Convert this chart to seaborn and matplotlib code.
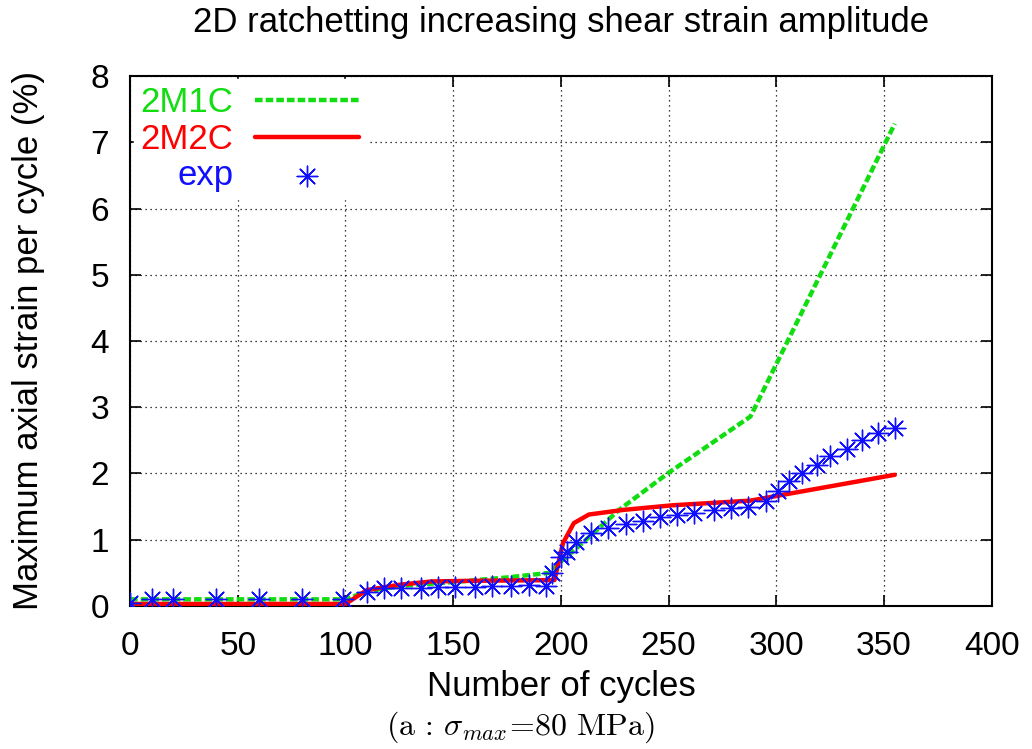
import numpy as np
import pandas as pd
import matplotlib
matplotlib.use("Agg")
import matplotlib.pyplot as plt
import seaborn as sns

# ================================
# Data
# ================================

# 2M1C model (dashed green)
m1c_cycles = [0, 100, 110, 125, 150, 175, 195, 200, 210, 227, 250, 288, 355]
m1c_strain = [0.10, 0.10, 0.22, 0.30, 0.36, 0.43, 0.50, 0.67, 0.95, 1.45, 2.01, 2.86, 7.28]

# 2M2C model (solid red)
m2c_cycles = [0, 100, 110, 125, 140, 160, 197, 201, 206, 213, 229, 252, 288, 355]
m2c_strain = [0.03, 0.03, 0.24, 0.32, 0.37, 0.38, 0.39, 0.95, 1.25, 1.38, 1.45, 1.52, 1.59, 1.98]

# experiment (blue asterisks)
exp_cycles = [0, 10, 20, 40, 60, 80, 99, 110, 118, 126, 135, 143, 151, 160, 168,
              177, 185, 193, 196, 200, 203, 207, 214, 222, 230, 238, 246, 254,
              262, 271, 279, 287, 295, 301, 306, 312, 319, 325, 333, 340, 347, 355]
exp_strain = [0.05, 0.10, 0.10, 0.10, 0.10, 0.10, 0.10, 0.21, 0.27, 0.27, 0.27, 0.29, 0.29, 0.29, 0.30,
              0.30, 0.32, 0.30, 0.50, 0.74, 0.82, 0.96, 1.10, 1.17, 1.24, 1.28, 1.35, 1.38,
              1.41, 1.45, 1.48, 1.50, 1.58, 1.73, 1.88, 2.01, 2.13, 2.27, 2.37, 2.50, 2.61, 2.69]

x_ticks = [0, 50, 100, 150, 200, 250, 300, 350, 400]
y_ticks = [0, 1, 2, 3, 4, 5, 6, 7, 8]

df_m1c = pd.DataFrame({"cycles": m1c_cycles, "strain": m1c_strain})
df_m2c = pd.DataFrame({"cycles": m2c_cycles, "strain": m2c_strain})
df_exp = pd.DataFrame({"cycles": exp_cycles, "strain": exp_strain})

# ================================
# Style
# ================================
sns.set_style("ticks")
plt.rcParams["font.family"] = ["Liberation Sans", "DejaVu Sans"]
plt.rcParams["mathtext.fontset"] = "cm"
plt.rcParams["text.color"] = "black"
plt.rcParams["axes.labelcolor"] = "black"

green = "#11dd11"
red = "#ff0000"
blue = "#1010ff"

fig = plt.figure(figsize=(10.32, 7.49), dpi=100)
ax = fig.add_axes([0.126, 0.191, 0.835, 0.7075])

sns.lineplot(data=df_m1c, x="cycles", y="strain", ax=ax, color=green, lw=3.2,
             label="2M1C", zorder=3)
ax.lines[-1].set_dashes([1.7, 0.7])
sns.lineplot(data=df_m2c, x="cycles", y="strain", ax=ax, color=red, lw=3.2,
             label="2M2C", zorder=4)
sns.scatterplot(data=df_exp, x="cycles", y="strain", ax=ax, color=blue,
                marker=(8, 2, 0), s=220, linewidth=1.0, label="exp", zorder=5)

ax.set_xlim(0, 400)
ax.set_ylim(0, 8)
ax.set_xticks(x_ticks)
ax.set_yticks(y_ticks)
ax.tick_params(direction="in", length=8, width=1.2, top=True, right=True,
               labelsize=24, colors="black")
ax.tick_params(axis="x", pad=18)
ax.tick_params(axis="y", pad=15)
for s in ax.spines.values():
    s.set_linewidth(1.5)
    s.set_color("black")
ax.grid(True, linestyle=(0, (1, 3)), color="black", lw=0.9)
ax.set_axisbelow(True)

ax.set_title("2D ratchetting increasing shear strain amplitude", fontsize=25, pad=32)
ax.set_xlabel("Number of cycles", fontsize=25, labelpad=6)
ax.set_ylabel("Maximum axial strain per cycle (%)", fontsize=25, labelpad=33)

fig.text(0.504, 0.029, r"$(\mathrm{a}\,:\,\sigma_{max}\!=\!80\ \mathrm{MPa})$",
         ha="center", va="center", fontsize=23)

leg = ax.legend(loc="upper left", markerfirst=False, fontsize=25, frameon=True,
                facecolor="white", edgecolor="white", framealpha=1,
                handlelength=3.0, handletextpad=0.63, labelspacing=0.1,
                borderaxespad=0.1, borderpad=0.2, fancybox=False)
for txt, c in zip(leg.get_texts(), [green, red, blue]):
    txt.set_color(c)
leg.set_zorder(10)

fig.savefig("out.png", dpi=100)
